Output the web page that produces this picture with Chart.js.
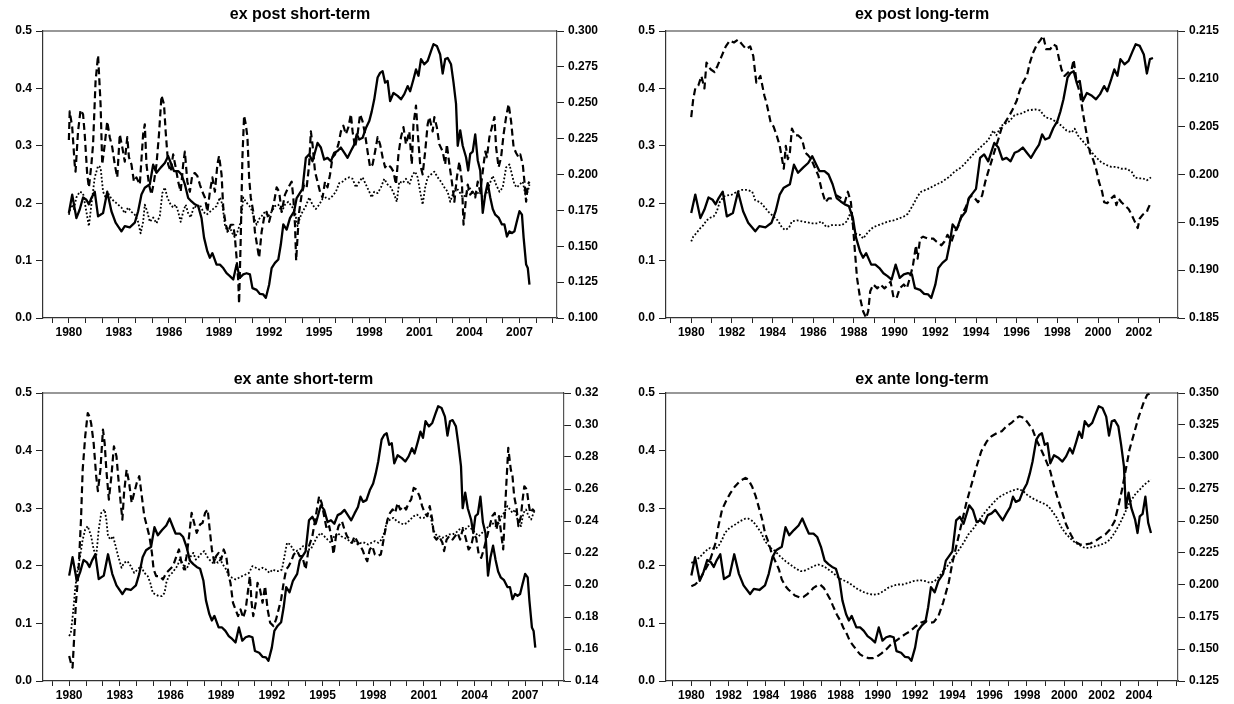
<!DOCTYPE html>
<html>
<head>
<meta charset="utf-8">
<title>ex post / ex ante</title>
<script src="https://cdn.jsdelivr.net/npm/chart.js@4.4.1/dist/chart.umd.min.js"></script>
<style>
  html, body { margin: 0; padding: 0; background: #fff; }
  #wrap { position: relative; width: 1234px; height: 704px; overflow: hidden; }
  #wrap canvas { position: absolute; }
</style>
</head>
<body>
<div id="wrap">
  <canvas id="tl" width="617" height="352" style="left:0px;top:0px"></canvas>
  <canvas id="tr" width="617" height="352" style="left:617px;top:0px"></canvas>
  <canvas id="bl" width="617" height="352" style="left:0px;top:352px"></canvas>
  <canvas id="br" width="617" height="352" style="left:617px;top:352px"></canvas>
</div>
<script>
// Solid series (left axis), same in all four panels, cut at a different end year
var solidYears = [1980.0,1980.2,1980.45,1980.65,1980.85,1981.05,1981.2,1981.35,1981.55,1981.75,1982.05,1982.3,1982.55,1982.8,1983.15,1983.35,1983.65,1983.95,1984.15,1984.35,1984.55,1984.85,1985.05,1985.25,1985.5,1985.75,1985.95,1986.15,1986.3,1986.55,1986.75,1986.95,1987.15,1987.35,1987.55,1987.75,1987.95,1988.1,1988.3,1988.45,1988.6,1988.85,1989.05,1989.25,1989.45,1989.65,1989.85,1990.05,1990.25,1990.45,1990.65,1990.85,1991.0,1991.25,1991.45,1991.65,1991.8,1992.0,1992.15,1992.35,1992.55,1992.7,1992.85,1993.05,1993.25,1993.5,1993.65,1993.85,1994.0,1994.2,1994.4,1994.6,1994.9,1995.1,1995.3,1995.5,1995.7,1995.9,1996.1,1996.3,1996.5,1996.7,1996.9,1997.1,1997.25,1997.4,1997.6,1997.8,1998.0,1998.15,1998.3,1998.5,1998.65,1998.8,1998.95,1999.1,1999.25,1999.45,1999.7,1999.9,2000.1,2000.3,2000.45,2000.65,2000.8,2000.95,2001.1,2001.3,2001.5,2001.7,2001.85,2002.05,2002.25,2002.4,2002.55,2002.7,2002.9,2003.05,2003.2,2003.3,2003.45,2003.6,2003.8,2003.93,2004.05,2004.2,2004.35,2004.5,2004.65,2004.8,2004.95,2005.1,2005.25,2005.4,2005.55,2005.75,2005.95,2006.1,2006.25,2006.4,2006.55,2006.7,2006.85,2007.0,2007.15,2007.25,2007.4,2007.5,2007.6];
var solidVals = [0.183,0.215,0.174,0.189,0.21,0.206,0.198,0.209,0.22,0.177,0.183,0.22,0.186,0.166,0.151,0.16,0.158,0.166,0.186,0.215,0.227,0.233,0.267,0.253,0.262,0.27,0.282,0.267,0.256,0.256,0.25,0.233,0.209,0.203,0.198,0.195,0.174,0.14,0.116,0.105,0.113,0.093,0.093,0.087,0.078,0.073,0.067,0.093,0.07,0.076,0.078,0.076,0.052,0.049,0.042,0.041,0.035,0.058,0.087,0.096,0.102,0.128,0.163,0.154,0.174,0.186,0.209,0.218,0.225,0.279,0.285,0.273,0.305,0.297,0.276,0.279,0.273,0.288,0.291,0.297,0.288,0.279,0.291,0.302,0.32,0.311,0.314,0.331,0.343,0.36,0.381,0.419,0.427,0.43,0.41,0.413,0.378,0.392,0.387,0.381,0.39,0.404,0.395,0.416,0.433,0.422,0.451,0.442,0.448,0.465,0.477,0.474,0.459,0.426,0.451,0.453,0.442,0.41,0.373,0.3,0.327,0.3,0.28,0.257,0.286,0.29,0.32,0.275,0.257,0.183,0.215,0.235,0.21,0.19,0.18,0.175,0.163,0.163,0.142,0.151,0.148,0.151,0.169,0.186,0.18,0.14,0.093,0.087,0.058];

// ex post short-term (right axis)
var tlDashYears = [1980.0,1980.05,1980.2,1980.35,1980.4,1980.55,1980.7,1980.85,1980.95,1981.1,1981.2,1981.35,1981.45,1981.6,1981.75,1981.9,1982.0,1982.15,1982.3,1982.45,1982.6,1982.75,1982.9,1983.05,1983.2,1983.35,1983.5,1983.6,1983.75,1983.9,1984.05,1984.25,1984.45,1984.55,1984.65,1984.8,1984.95,1985.1,1985.25,1985.4,1985.55,1985.7,1985.8,1985.95,1986.1,1986.25,1986.4,1986.55,1986.7,1986.85,1986.95,1987.1,1987.25,1987.4,1987.55,1987.7,1987.85,1988.0,1988.15,1988.3,1988.45,1988.6,1988.75,1988.9,1989.0,1989.15,1989.25,1989.4,1989.55,1989.7,1989.85,1989.95,1990.05,1990.15,1990.2,1990.3,1990.4,1990.5,1990.6,1990.7,1990.8,1990.9,1991.05,1991.15,1991.3,1991.4,1991.55,1991.7,1991.85,1992.0,1992.15,1992.3,1992.45,1992.6,1992.75,1992.95,1993.15,1993.35,1993.45,1993.55,1993.62,1993.7,1993.8,1993.95,1994.1,1994.25,1994.4,1994.5,1994.6,1994.75,1994.9,1995.05,1995.2,1995.35,1995.5,1995.65,1995.8,1995.95,1996.15,1996.3,1996.45,1996.6,1996.75,1996.9,1997.0,1997.15,1997.3,1997.45,1997.6,1997.75,1997.9,1998.05,1998.2,1998.35,1998.5,1998.65,1998.8,1998.95,1999.1,1999.3,1999.45,1999.6,1999.75,1999.9,2000.05,2000.2,2000.4,2000.55,2000.65,2000.8,2000.9,2001.05,2001.2,2001.35,2001.5,2001.6,2001.8,2001.9,2002.05,2002.2,2002.4,2002.55,2002.65,2002.8,2002.95,2003.1,2003.25,2003.4,2003.55,2003.65,2003.8,2003.9,2004.05,2004.2,2004.35,2004.5,2004.65,2004.8,2004.95,2005.05,2005.2,2005.35,2005.5,2005.6,2005.75,2005.9,2006.05,2006.2,2006.35,2006.5,2006.65,2006.8,2006.95,2007.05,2007.2,2007.3,2007.4,2007.5,2007.6];
var tlDashVals = [0.224,0.244,0.233,0.207,0.202,0.23,0.245,0.242,0.228,0.2,0.191,0.207,0.221,0.265,0.283,0.249,0.207,0.221,0.237,0.226,0.219,0.207,0.198,0.228,0.219,0.209,0.226,0.212,0.207,0.195,0.198,0.193,0.228,0.235,0.207,0.193,0.186,0.195,0.207,0.228,0.255,0.249,0.23,0.207,0.202,0.214,0.205,0.195,0.188,0.207,0.216,0.195,0.188,0.2,0.201,0.199,0.193,0.188,0.184,0.174,0.188,0.198,0.188,0.207,0.213,0.2,0.177,0.165,0.16,0.165,0.165,0.156,0.142,0.126,0.11,0.156,0.212,0.241,0.235,0.226,0.198,0.184,0.174,0.16,0.149,0.142,0.16,0.17,0.174,0.167,0.174,0.181,0.191,0.188,0.174,0.186,0.191,0.195,0.184,0.165,0.14,0.156,0.174,0.186,0.193,0.191,0.207,0.23,0.221,0.202,0.195,0.188,0.184,0.195,0.191,0.2,0.212,0.214,0.221,0.23,0.234,0.228,0.233,0.242,0.23,0.219,0.228,0.242,0.237,0.228,0.216,0.205,0.207,0.216,0.226,0.221,0.212,0.205,0.207,0.205,0.202,0.193,0.214,0.226,0.233,0.221,0.23,0.207,0.235,0.248,0.23,0.207,0.2,0.216,0.235,0.24,0.23,0.24,0.233,0.221,0.216,0.207,0.221,0.207,0.195,0.181,0.198,0.209,0.195,0.165,0.184,0.193,0.186,0.188,0.184,0.195,0.188,0.202,0.216,0.212,0.226,0.233,0.24,0.219,0.205,0.212,0.228,0.24,0.249,0.237,0.219,0.215,0.212,0.214,0.207,0.195,0.181,0.193,0.195];
var tlDotYears = [1980.0,1980.15,1980.3,1980.45,1980.65,1980.85,1981.05,1981.2,1981.35,1981.55,1981.75,1981.9,1982.05,1982.2,1982.35,1982.55,1982.75,1982.95,1983.15,1983.35,1983.55,1983.75,1983.95,1984.15,1984.3,1984.45,1984.55,1984.7,1984.85,1985.05,1985.25,1985.45,1985.6,1985.75,1985.9,1986.1,1986.25,1986.4,1986.55,1986.7,1986.85,1987.0,1987.15,1987.3,1987.5,1987.65,1987.85,1988.05,1988.25,1988.45,1988.65,1988.85,1989.05,1989.2,1989.35,1989.5,1989.65,1989.8,1989.95,1990.1,1990.3,1990.45,1990.6,1990.75,1990.9,1991.1,1991.25,1991.4,1991.55,1991.75,1991.95,1992.15,1992.35,1992.55,1992.75,1992.95,1993.15,1993.35,1993.55,1993.7,1993.85,1994.0,1994.2,1994.4,1994.6,1994.8,1995.0,1995.2,1995.4,1995.6,1995.8,1996.0,1996.2,1996.4,1996.6,1996.8,1997.0,1997.2,1997.4,1997.6,1997.8,1998.0,1998.15,1998.3,1998.5,1998.7,1998.9,1999.1,1999.3,1999.5,1999.65,1999.8,2000.0,2000.2,2000.4,2000.6,2000.75,2000.9,2001.05,2001.2,2001.35,2001.5,2001.7,2001.9,2002.1,2002.3,2002.5,2002.7,2002.85,2003.0,2003.2,2003.4,2003.6,2003.8,2004.0,2004.2,2004.4,2004.6,2004.8,2005.0,2005.2,2005.4,2005.6,2005.8,2006.0,2006.2,2006.4,2006.55,2006.7,2006.85,2007.0,2007.2,2007.35,2007.5,2007.6];
var tlDotVals = [0.172,0.179,0.176,0.184,0.188,0.187,0.174,0.164,0.179,0.198,0.206,0.205,0.188,0.184,0.187,0.183,0.181,0.179,0.177,0.173,0.177,0.174,0.172,0.167,0.159,0.167,0.179,0.174,0.167,0.17,0.166,0.171,0.187,0.191,0.184,0.179,0.177,0.179,0.174,0.167,0.174,0.179,0.173,0.17,0.178,0.177,0.179,0.174,0.172,0.174,0.176,0.178,0.184,0.179,0.165,0.16,0.163,0.159,0.156,0.16,0.167,0.184,0.181,0.179,0.177,0.17,0.165,0.169,0.171,0.174,0.171,0.174,0.178,0.179,0.174,0.179,0.181,0.178,0.174,0.164,0.17,0.174,0.178,0.184,0.179,0.176,0.179,0.183,0.184,0.183,0.185,0.188,0.194,0.195,0.197,0.198,0.197,0.191,0.195,0.198,0.193,0.188,0.184,0.188,0.187,0.191,0.197,0.193,0.191,0.186,0.181,0.195,0.194,0.197,0.193,0.2,0.202,0.198,0.188,0.179,0.191,0.198,0.2,0.202,0.198,0.195,0.191,0.188,0.181,0.186,0.191,0.188,0.184,0.186,0.191,0.187,0.186,0.188,0.184,0.186,0.193,0.199,0.193,0.188,0.191,0.205,0.207,0.2,0.193,0.191,0.193,0.195,0.186,0.188,0.193];

// ex post long-term (right axis)
var trDashYears = [1980.0,1980.1,1980.2,1980.35,1980.5,1980.65,1980.75,1980.95,1981.15,1981.3,1981.5,1981.7,1981.9,1982.1,1982.3,1982.5,1982.7,1982.9,1983.05,1983.2,1983.4,1983.6,1983.7,1983.9,1984.05,1984.2,1984.35,1984.55,1984.65,1984.75,1984.85,1984.95,1985.1,1985.25,1985.45,1985.6,1985.75,1985.9,1986.1,1986.25,1986.4,1986.6,1986.75,1986.9,1987.15,1987.4,1987.55,1987.7,1987.85,1987.95,1988.05,1988.15,1988.3,1988.45,1988.6,1988.7,1988.8,1988.95,1989.15,1989.3,1989.5,1989.7,1989.8,1989.95,1990.1,1990.25,1990.45,1990.6,1990.75,1990.9,1991.05,1991.13,1991.25,1991.4,1991.65,1991.9,1992.05,1992.3,1992.45,1992.6,1992.8,1992.95,1993.15,1993.3,1993.5,1993.65,1993.8,1993.95,1994.1,1994.3,1994.45,1994.6,1994.75,1994.95,1995.1,1995.25,1995.45,1995.65,1995.8,1996.0,1996.15,1996.3,1996.5,1996.65,1996.8,1997.0,1997.15,1997.3,1997.45,1997.65,1997.8,1997.95,1998.05,1998.2,1998.35,1998.55,1998.7,1998.8,1998.95,1999.1,1999.25,1999.45,1999.6,1999.75,1999.9,2000.05,2000.2,2000.3,2000.45,2000.65,2000.8,2000.9,2001.0,2001.15,2001.3,2001.5,2001.65,2001.8,2001.95,2002.05,2002.2,2002.4,2002.45,2002.6];
var trDashVals = [0.206,0.2079,0.209,0.2093,0.2103,0.209,0.2117,0.211,0.2107,0.2114,0.2124,0.2134,0.214,0.2138,0.2141,0.2136,0.2131,0.2134,0.2124,0.2096,0.2103,0.2082,0.2075,0.2055,0.205,0.2041,0.203,0.2006,0.203,0.2016,0.2023,0.2048,0.2041,0.2041,0.2037,0.2023,0.202,0.2016,0.2006,0.1999,0.1985,0.1971,0.1975,0.1975,0.1978,0.1975,0.1971,0.1982,0.1971,0.1947,0.1919,0.1892,0.1871,0.1857,0.185,0.1857,0.1878,0.1885,0.1881,0.1885,0.1881,0.1885,0.1888,0.1871,0.1871,0.1881,0.1885,0.1881,0.1892,0.1905,0.1926,0.1912,0.1933,0.1935,0.1933,0.1933,0.193,0.1926,0.193,0.1937,0.193,0.194,0.1947,0.1958,0.1966,0.1975,0.1978,0.1975,0.1971,0.1978,0.1992,0.2003,0.2013,0.2027,0.2037,0.2048,0.2055,0.2062,0.2068,0.2077,0.2088,0.2096,0.2103,0.2117,0.2127,0.2136,0.214,0.2145,0.2131,0.2131,0.2136,0.2134,0.2124,0.211,0.2103,0.2107,0.211,0.212,0.2096,0.2086,0.2065,0.2041,0.2023,0.2016,0.2006,0.1992,0.1982,0.1971,0.197,0.1975,0.1978,0.1968,0.1975,0.1971,0.1968,0.1964,0.1958,0.1951,0.1944,0.1954,0.1958,0.1961,0.1964,0.1971];
var trDotYears = [1980.0,1980.1,1980.3,1980.45,1980.6,1980.75,1980.95,1981.1,1981.25,1981.4,1981.6,1981.75,1982.0,1982.25,1982.5,1982.75,1983.0,1983.15,1983.4,1983.6,1983.8,1984.05,1984.25,1984.45,1984.6,1984.8,1984.95,1985.2,1985.45,1985.7,1985.95,1986.2,1986.4,1986.65,1986.9,1987.15,1987.4,1987.65,1987.85,1987.95,1988.1,1988.3,1988.45,1988.7,1988.95,1989.2,1989.45,1989.7,1989.95,1990.2,1990.45,1990.65,1990.9,1991.15,1991.3,1991.65,1992.0,1992.3,1992.65,1992.95,1993.3,1993.6,1993.95,1994.25,1994.6,1994.85,1995.0,1995.25,1995.6,1995.9,1996.25,1996.55,1996.9,1997.15,1997.4,1997.7,1997.95,1998.2,1998.45,1998.7,1998.85,1999.0,1999.2,1999.45,1999.7,1999.9,2000.15,2000.4,2000.65,2000.9,2001.15,2001.4,2001.65,2001.8,2001.95,2002.2,2002.4,2002.6];
var trDotVals = [0.193,0.1935,0.194,0.1944,0.1947,0.1952,0.1955,0.1956,0.1961,0.1971,0.1977,0.1978,0.1979,0.1982,0.1984,0.1984,0.1982,0.1973,0.1971,0.1966,0.1961,0.1956,0.1952,0.1945,0.1942,0.1944,0.1951,0.1952,0.1951,0.195,0.1949,0.1949,0.1951,0.1945,0.1947,0.1947,0.1947,0.1951,0.1961,0.1947,0.1938,0.1937,0.1933,0.194,0.1945,0.1947,0.1949,0.1951,0.1952,0.1954,0.1956,0.1959,0.1968,0.1978,0.1982,0.1985,0.1989,0.1992,0.1997,0.2003,0.2008,0.2015,0.2023,0.2029,0.2036,0.2046,0.2041,0.2051,0.2055,0.2062,0.2064,0.2067,0.2068,0.2067,0.206,0.2058,0.2055,0.2051,0.2046,0.2044,0.2048,0.2041,0.2036,0.203,0.2023,0.2018,0.2013,0.201,0.2008,0.2008,0.2006,0.2006,0.2003,0.1997,0.1996,0.1996,0.1994,0.1997];

// ex ante short-term (right axis)
var blDashYears = [1980.0,1980.1,1980.2,1980.3,1980.4,1980.55,1980.7,1980.8,1980.95,1981.1,1981.2,1981.3,1981.45,1981.6,1981.7,1981.85,1982.0,1982.1,1982.2,1982.35,1982.5,1982.65,1982.8,1982.9,1983.05,1983.15,1983.25,1983.4,1983.55,1983.7,1983.85,1984.0,1984.15,1984.3,1984.45,1984.6,1984.75,1984.9,1985.0,1985.15,1985.35,1985.55,1985.75,1985.95,1986.15,1986.35,1986.5,1986.65,1986.8,1986.95,1987.1,1987.25,1987.4,1987.55,1987.75,1987.9,1988.05,1988.2,1988.3,1988.45,1988.6,1988.7,1988.85,1989.0,1989.15,1989.3,1989.45,1989.55,1989.7,1989.85,1990.0,1990.15,1990.3,1990.45,1990.55,1990.7,1990.8,1990.9,1991.05,1991.15,1991.3,1991.45,1991.6,1991.75,1991.9,1992.1,1992.25,1992.4,1992.55,1992.7,1992.85,1993.0,1993.15,1993.3,1993.5,1993.65,1993.8,1994.0,1994.2,1994.4,1994.6,1994.8,1994.95,1995.1,1995.25,1995.4,1995.55,1995.65,1995.8,1995.95,1996.15,1996.3,1996.45,1996.6,1996.75,1996.9,1997.1,1997.25,1997.4,1997.5,1997.65,1997.8,1997.95,1998.1,1998.25,1998.45,1998.55,1998.65,1998.85,1999.0,1999.15,1999.3,1999.45,1999.6,1999.8,1999.95,2000.1,2000.25,2000.4,2000.55,2000.75,2000.9,2001.05,2001.2,2001.35,2001.5,2001.6,2001.75,2001.9,2002.1,2002.2,2002.35,2002.5,2002.7,2002.85,2003.0,2003.15,2003.3,2003.45,2003.65,2003.8,2003.95,2004.1,2004.25,2004.4,2004.55,2004.75,2004.9,2005.05,2005.2,2005.3,2005.45,2005.6,2005.7,2005.8,2005.9,2006.0,2006.15,2006.25,2006.35,2006.5,2006.6,2006.75,2006.85,2006.95,2007.1,2007.2,2007.3,2007.45,2007.55];
var blDashVals = [0.1556,0.1514,0.1483,0.1681,0.1889,0.2076,0.2409,0.2721,0.293,0.3075,0.3054,0.3011,0.2886,0.268,0.2586,0.2721,0.2971,0.2888,0.2721,0.2534,0.268,0.2867,0.2805,0.268,0.2513,0.2409,0.2576,0.2721,0.2638,0.2513,0.2576,0.2638,0.268,0.2555,0.243,0.2368,0.2305,0.2201,0.2097,0.2056,0.2056,0.2035,0.2076,0.2097,0.2118,0.218,0.2222,0.2139,0.2097,0.218,0.2305,0.2451,0.2388,0.2326,0.2378,0.2388,0.2451,0.2472,0.2368,0.2222,0.2139,0.218,0.2201,0.2159,0.2222,0.218,0.2056,0.2014,0.1889,0.1847,0.1806,0.1847,0.1795,0.1847,0.1931,0.2056,0.1889,0.1806,0.1889,0.2014,0.1972,0.1889,0.1993,0.1847,0.1764,0.1743,0.1785,0.1847,0.191,0.2014,0.2097,0.2118,0.2149,0.2191,0.2212,0.218,0.218,0.2097,0.2243,0.2305,0.243,0.2555,0.2513,0.243,0.2347,0.2368,0.2284,0.2191,0.2305,0.2368,0.2399,0.2347,0.2305,0.2284,0.2264,0.2305,0.2264,0.2243,0.2212,0.218,0.2149,0.2222,0.2243,0.2191,0.218,0.2191,0.2243,0.2305,0.2409,0.2451,0.2472,0.2451,0.2513,0.2472,0.2493,0.2472,0.2513,0.2534,0.2607,0.2597,0.2555,0.2493,0.2451,0.243,0.2493,0.2409,0.2305,0.2284,0.2305,0.2264,0.2212,0.2284,0.2305,0.2284,0.2305,0.2326,0.2284,0.2347,0.2305,0.2222,0.2243,0.2316,0.2295,0.2191,0.217,0.2222,0.2305,0.2368,0.243,0.2451,0.2347,0.243,0.2305,0.2222,0.2451,0.2659,0.2857,0.2721,0.268,0.2555,0.2472,0.2368,0.243,0.2534,0.2617,0.2597,0.2513,0.2451,0.2472,0.2461];
var blDotYears = [1980.0,1980.1,1980.25,1980.35,1980.5,1980.65,1980.8,1980.95,1981.1,1981.3,1981.45,1981.6,1981.75,1981.9,1982.1,1982.2,1982.3,1982.45,1982.6,1982.75,1982.9,1983.1,1983.25,1983.45,1983.65,1983.85,1984.05,1984.25,1984.45,1984.65,1984.8,1984.95,1985.1,1985.3,1985.5,1985.65,1985.75,1985.9,1986.1,1986.25,1986.4,1986.55,1986.7,1986.9,1987.05,1987.2,1987.35,1987.5,1987.7,1987.85,1988.0,1988.15,1988.3,1988.5,1988.65,1988.8,1988.95,1989.1,1989.3,1989.45,1989.65,1989.85,1990.05,1990.25,1990.45,1990.65,1990.85,1991.05,1991.25,1991.45,1991.65,1991.85,1992.05,1992.25,1992.45,1992.6,1992.75,1992.9,1993.1,1993.25,1993.45,1993.65,1993.85,1994.05,1994.3,1994.5,1994.7,1994.9,1995.1,1995.3,1995.5,1995.7,1995.9,1996.1,1996.3,1996.5,1996.7,1996.9,1997.1,1997.3,1997.5,1997.7,1997.9,1998.1,1998.3,1998.5,1998.65,1998.8,1999.0,1999.2,1999.4,1999.6,1999.8,2000.0,2000.2,2000.4,2000.6,2000.8,2001.0,2001.2,2001.4,2001.55,2001.7,2001.9,2002.1,2002.3,2002.5,2002.7,2002.9,2003.1,2003.3,2003.45,2003.65,2003.85,2004.05,2004.25,2004.45,2004.65,2004.85,2005.05,2005.25,2005.45,2005.6,2005.75,2005.95,2006.1,2006.25,2006.4,2006.55,2006.75,2006.9,2007.05,2007.2,2007.35,2007.5,2007.6];
var blDotVals = [0.1681,0.1702,0.1847,0.1972,0.2097,0.218,0.2284,0.2347,0.2368,0.2305,0.2222,0.218,0.2347,0.2451,0.2472,0.2409,0.2305,0.2284,0.2305,0.2243,0.218,0.2108,0.2139,0.2149,0.2118,0.2076,0.2097,0.2118,0.2076,0.2056,0.2014,0.1951,0.1941,0.1931,0.1931,0.1951,0.2014,0.2056,0.2076,0.2097,0.2118,0.2159,0.2139,0.2097,0.2118,0.218,0.2201,0.2159,0.218,0.2201,0.2212,0.218,0.2159,0.2139,0.2159,0.2139,0.2159,0.2128,0.2097,0.2056,0.2045,0.2035,0.2045,0.2056,0.2066,0.2076,0.2118,0.2108,0.2097,0.2108,0.2097,0.2076,0.2097,0.2087,0.2087,0.2097,0.218,0.2264,0.2253,0.2222,0.2212,0.2222,0.2243,0.2222,0.2222,0.2264,0.2305,0.2326,0.2305,0.2284,0.2264,0.2305,0.2326,0.2305,0.2295,0.2284,0.2264,0.2274,0.2253,0.2264,0.2264,0.2253,0.2264,0.2274,0.2264,0.2284,0.2326,0.2388,0.2409,0.242,0.2399,0.2388,0.2378,0.2388,0.2409,0.243,0.244,0.242,0.242,0.243,0.243,0.2347,0.2316,0.2305,0.2295,0.2305,0.2316,0.2316,0.2326,0.2347,0.2357,0.2347,0.2368,0.2347,0.2326,0.2305,0.2326,0.2347,0.2368,0.2388,0.2368,0.2388,0.243,0.2451,0.2493,0.2472,0.2451,0.2472,0.2409,0.2368,0.2451,0.2472,0.243,0.2409,0.2451,0.2472];

// ex ante long-term (right axis)
var brDashYears = [1980.0,1980.2,1980.4,1980.55,1980.75,1980.95,1981.1,1981.3,1981.45,1981.65,1981.9,1982.1,1982.35,1982.6,1982.9,1983.05,1983.25,1983.45,1983.6,1983.8,1983.95,1984.15,1984.3,1984.5,1984.7,1984.85,1985.05,1985.2,1985.4,1985.55,1985.85,1986.0,1986.2,1986.4,1986.55,1986.75,1986.9,1987.1,1987.25,1987.45,1987.6,1987.8,1988.0,1988.15,1988.35,1988.5,1988.7,1988.9,1989.05,1989.25,1989.5,1989.75,1989.95,1990.2,1990.45,1990.65,1990.95,1991.2,1991.45,1991.75,1992.0,1992.3,1992.55,1992.8,1993.0,1993.25,1993.5,1993.8,1994.0,1994.25,1994.5,1994.75,1995.05,1995.3,1995.55,1995.85,1996.1,1996.4,1996.65,1996.9,1997.2,1997.45,1997.6,1997.85,1998.05,1998.3,1998.5,1998.8,1999.0,1999.25,1999.45,1999.7,1999.9,2000.1,2000.35,2000.55,2000.85,2001.1,2001.4,2001.65,2001.9,2002.2,2002.45,2002.7,2002.9,2003.1,2003.3,2003.5,2003.75,2004.0,2004.25,2004.45,2004.65];
var brDashVals = [0.1991,0.2004,0.203,0.2069,0.2121,0.2173,0.2238,0.2329,0.246,0.259,0.2668,0.272,0.2772,0.2811,0.2837,0.2824,0.2772,0.2694,0.2616,0.2512,0.2407,0.2329,0.2251,0.2186,0.2121,0.2043,0.1991,0.1965,0.1939,0.1918,0.19,0.1905,0.1926,0.1952,0.1978,0.1996,0.2004,0.1978,0.1939,0.1887,0.1835,0.177,0.1718,0.1666,0.1614,0.1562,0.1523,0.1484,0.1458,0.144,0.1429,0.1429,0.144,0.1466,0.1497,0.1528,0.1562,0.1588,0.1614,0.164,0.1674,0.1705,0.1718,0.1705,0.171,0.1757,0.1861,0.2017,0.2173,0.2329,0.2485,0.2642,0.2798,0.2928,0.3045,0.3123,0.3162,0.3188,0.3201,0.324,0.3271,0.3305,0.3318,0.3305,0.3266,0.3214,0.3136,0.3045,0.2979,0.2889,0.2772,0.2654,0.2563,0.2472,0.2394,0.2342,0.2316,0.2316,0.2324,0.2342,0.2368,0.2394,0.2433,0.2498,0.2616,0.2746,0.2902,0.3058,0.3188,0.3318,0.3422,0.3487,0.35];
var brDotYears = [1980.0,1980.2,1980.5,1980.75,1981.0,1981.3,1981.45,1981.65,1981.8,1982.05,1982.35,1982.6,1982.9,1983.05,1983.3,1983.5,1983.75,1983.95,1984.25,1984.5,1984.75,1985.05,1985.3,1985.55,1985.85,1986.0,1986.3,1986.55,1986.8,1987.1,1987.35,1987.6,1987.9,1988.15,1988.45,1988.7,1988.95,1989.25,1989.5,1989.75,1990.05,1990.3,1990.55,1990.85,1991.1,1991.35,1991.65,1991.9,1992.25,1992.55,1992.8,1993.05,1993.3,1993.5,1993.8,1994.05,1994.3,1994.6,1994.85,1995.15,1995.4,1995.65,1995.95,1996.2,1996.45,1996.75,1997.0,1997.25,1997.55,1997.8,1998.05,1998.35,1998.6,1998.9,1999.15,1999.35,1999.6,1999.8,2000.05,2000.3,2000.55,2000.85,2001.1,2001.35,2001.65,2001.9,2002.2,2002.45,2002.7,2003.0,2003.25,2003.5,2003.8,2004.05,2004.3,2004.65];
var brDotVals = [0.2173,0.2186,0.2225,0.2264,0.229,0.2283,0.2303,0.2355,0.2407,0.2446,0.2472,0.2498,0.2519,0.2519,0.2498,0.246,0.2407,0.2342,0.229,0.2264,0.2225,0.2186,0.216,0.2134,0.2108,0.2108,0.2127,0.2147,0.216,0.2147,0.2121,0.2095,0.2056,0.2038,0.2017,0.1991,0.1965,0.1944,0.1931,0.1924,0.1931,0.1952,0.1978,0.1996,0.2004,0.2004,0.2017,0.203,0.2038,0.203,0.2017,0.203,0.2069,0.2108,0.216,0.2212,0.2264,0.2329,0.2394,0.2446,0.2498,0.2551,0.2603,0.2642,0.2681,0.2707,0.2725,0.274,0.2751,0.2733,0.2699,0.2673,0.2655,0.2636,0.2616,0.2577,0.2525,0.246,0.2407,0.2368,0.2335,0.2309,0.229,0.229,0.2303,0.2311,0.2329,0.2355,0.2407,0.2485,0.2563,0.2642,0.2707,0.2746,0.2785,0.2824];

// Axis ticks and labels
var leftTicks = [0.0, 0.1, 0.2, 0.3, 0.4, 0.5];
var tlRightTicks = [0.100, 0.125, 0.150, 0.175, 0.200, 0.225, 0.250, 0.275, 0.300];
var trRightTicks = [0.185, 0.190, 0.195, 0.200, 0.205, 0.210, 0.215];
var blRightTicks = [0.14, 0.16, 0.18, 0.20, 0.22, 0.24, 0.26, 0.28, 0.30, 0.32];
var brRightTicks = [0.125, 0.150, 0.175, 0.200, 0.225, 0.250, 0.275, 0.300, 0.325, 0.350];
var shortYearLabels = [1980, 1983, 1986, 1989, 1992, 1995, 1998, 2001, 2004, 2007];
var tlongYearLabels = [1980, 1982, 1984, 1986, 1988, 1990, 1992, 1994, 1996, 1998, 2000, 2002];
var blongYearLabels = [1980, 1982, 1984, 1986, 1988, 1990, 1992, 1994, 1996, 1998, 2000, 2002, 2004];


var FONT = '"Liberation Sans", Arial, Helvetica, sans-serif';

function pairs(xs, ys, last) {
    var out = [];
    for (var i = 0; i < xs.length; i++) {
        if (last === undefined || xs[i] <= last) out.push({ x: xs[i], y: ys[i] });
    }
    return out;
}

function yearTicks(min, max) {
    var t = [];
    for (var v = Math.ceil(min); v <= Math.floor(max); v++) t.push({ value: v });
    return t;
}

// draws the panel title and the top edge of the box
function framePlugin(title, titleY) {
    return {
        id: 'frame',
        afterDraw: function(chart) {
            var ctx = chart.ctx, a = chart.chartArea;
            ctx.save();
            ctx.strokeStyle = '#333';
            ctx.lineWidth = 1.2;
            ctx.beginPath();
            ctx.moveTo(a.left, a.top);
            ctx.lineTo(a.right, a.top);
            ctx.stroke();
            ctx.fillStyle = '#000';
            ctx.font = 'bold 16px ' + FONT;
            ctx.textAlign = 'center';
            ctx.textBaseline = 'middle';
            ctx.fillText(title, (a.left + a.right) / 2, titleY);
            ctx.restore();
        }
    };
}

function makePanel(id, p) {
    var ctx = document.getElementById(id).getContext('2d');
    var tickFont = { family: FONT, size: 12, weight: 'bold' };
    return new Chart(ctx, {
        type: 'line',
        data: {
            datasets: [
                { label: 'solid', data: p.solid, yAxisID: 'y', borderColor: '#000', borderWidth: 2.3, pointRadius: 0 },
                { label: 'dashed', data: p.dash, yAxisID: 'y2', borderColor: '#000', borderWidth: 2.2, borderDash: [7, 4], pointRadius: 0 },
                { label: 'dotted', data: p.dot, yAxisID: 'y2', borderColor: '#000', borderWidth: 1.8, borderDash: [1.8, 2], pointRadius: 0 }
            ]
        },
        options: {
            responsive: false,
            animation: false,
            devicePixelRatio: 1,
            layout: { padding: { top: p.top, left: 0, right: 0, bottom: 0 } },
            elements: { line: { tension: 0, borderJoinStyle: 'round', borderCapStyle: 'butt' } },
            plugins: { legend: { display: false }, tooltip: { enabled: false }, title: { display: false } },
            scales: {
                x: {
                    type: 'linear', min: p.xmin, max: p.xmax,
                    afterBuildTicks: function(s) { s.ticks = yearTicks(p.xmin, p.xmax); },
                    afterFit: function(s) { s.height = p.xh; },
                    ticks: {
                        autoSkip: false, maxRotation: 0, padding: 2, color: '#000', font: tickFont,
                        callback: function(v) { return p.labels.indexOf(v) >= 0 ? String(v) : ''; }
                    },
                    grid: { drawOnChartArea: false, tickLength: 5, color: '#222', lineWidth: 1 },
                    border: { color: '#333', width: 1.2 }
                },
                y: {
                    position: 'left', min: 0, max: 0.5,
                    afterBuildTicks: function(s) { s.ticks = leftTicks.map(function(v) { return { value: v }; }); },
                    afterFit: function(s) { s.width = p.lw; },
                    ticks: { padding: 4, color: '#000', font: tickFont, callback: function(v) { return v.toFixed(1); } },
                    grid: { drawOnChartArea: false, tickLength: 7, color: '#222', lineWidth: 1 },
                    border: { color: '#333', width: 1.2 }
                },
                y2: {
                    position: 'right', min: p.rticks[0], max: p.rticks[p.rticks.length - 1],
                    afterBuildTicks: function(s) { s.ticks = p.rticks.map(function(v) { return { value: v }; }); },
                    afterFit: function(s) { s.width = p.rw; },
                    ticks: { padding: 4, color: '#000', font: tickFont, callback: function(v) { return v.toFixed(p.dec); } },
                    grid: { drawOnChartArea: false, tickLength: 7, color: '#222', lineWidth: 1 },
                    border: { color: '#555', width: 1.2 }
                }
            }
        },
        plugins: [framePlugin(p.title, p.titleY)]
    });
}

makePanel('tl', {
    title: 'ex post short-term', titleY: 15, top: 31, xh: 34, lw: 43, rw: 60,
    xmin: 1978.45, xmax: 2009.25, labels: shortYearLabels, rticks: tlRightTicks, dec: 3,
    solid: pairs(solidYears, solidVals), dash: pairs(tlDashYears, tlDashVals), dot: pairs(tlDotYears, tlDotVals)
});

makePanel('tr', {
    title: 'ex post long-term', titleY: 15, top: 31, xh: 34, lw: 49, rw: 56,
    xmin: 1978.76, xmax: 2003.93, labels: tlongYearLabels, rticks: trRightTicks, dec: 3,
    solid: pairs(solidYears, solidVals, 2002.7), dash: pairs(trDashYears, trDashVals), dot: pairs(trDotYears, trDotVals)
});

makePanel('bl', {
    title: 'ex ante short-term', titleY: 28, top: 41, xh: 23, lw: 43, rw: 53,
    xmin: 1978.45, xmax: 2009.3, labels: shortYearLabels, rticks: blRightTicks, dec: 2,
    solid: pairs(solidYears, solidVals), dash: pairs(blDashYears, blDashVals), dot: pairs(blDotYears, blDotVals)
});

makePanel('br', {
    title: 'ex ante long-term', titleY: 28, top: 41, xh: 23, lw: 49, rw: 56,
    xmin: 1978.64, xmax: 2006.1, labels: blongYearLabels, rticks: brRightTicks, dec: 3,
    solid: pairs(solidYears, solidVals, 2004.65), dash: pairs(brDashYears, brDashVals), dot: pairs(brDotYears, brDotVals)
});
</script>
</body>
</html>
